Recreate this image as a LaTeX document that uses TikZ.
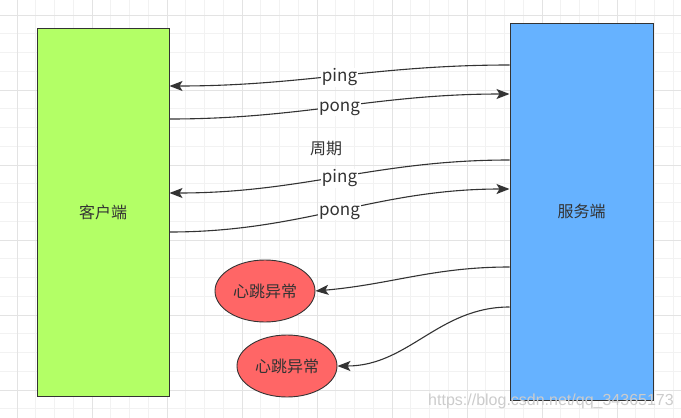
\documentclass[tikz,border=0pt]{standalone}
\usepackage{fontspec}
\newfontfamily\cjk{Noto Sans CJK SC}
\newfontfamily\wmfont{Liberation Sans}
\usetikzlibrary{arrows.meta,shapes.geometric}
\definecolor{clientgreen}{HTML}{B3FF66}
\definecolor{serverblue}{HTML}{66B2FF}
\definecolor{alarmred}{HTML}{FF6666}
\definecolor{ink}{HTML}{333333}
\definecolor{gridminor}{HTML}{F2F2F2}
\definecolor{gridmajor}{HTML}{E3E3E3}
\tikzset{
  box/.style={draw=ink, line width=1pt, inner sep=0pt, font=\cjk\fontsize{16}{16}\selectfont, text=ink},
  alarm/.style={ellipse, draw=ink, line width=0.9pt, fill=alarmred, minimum width=100pt, minimum height=62pt, inner sep=0pt, font=\cjk\fontsize{16}{16}\selectfont, text=ink},
  link/.style={draw=ink, line width=1.1pt, -{Stealth[length=13pt,width=10pt,inset=3pt]}},
  msg/.style={fill=white, inner sep=1pt, yshift=-2pt, font=\cjk\fontsize{17}{17}\selectfont, text=ink},
  plain/.style={font=\cjk\fontsize{16}{16}\selectfont, text=ink},
  minorline/.style={draw=gridminor, line width=0.8pt},
  majorline/.style={draw=gridmajor, line width=1pt}
}
\begin{document}
\begin{tikzpicture}[x=1pt, y=-1pt]
\useasboundingbox (0,0) rectangle (681,418);
\fill[white] (0,0) rectangle (681,418);
% grid
\foreach \i in {0,...,35} \draw[minorline] ({17+18.75*\i},0) -- ({17+18.75*\i},418);
\foreach \j in {0,...,21} \draw[minorline] (0,{15+18.75*\j}) -- (681,{15+18.75*\j});
\foreach \i in {0,...,8} \draw[majorline] ({17+75*\i},0) -- ({17+75*\i},418);
\foreach \j in {0,...,5} \draw[majorline] (0,{15+75*\j}) -- (681,{15+75*\j});
% boxes
\node[box, fill=clientgreen, minimum width=132pt, minimum height=368pt] (client) at (103,212) {客户端};
\node[box, fill=serverblue, minimum width=143pt, minimum height=377pt] (server) at (581.5,211.5) {服务端};
\node[alarm] (a1) at (265,291) {心跳异常};
\node[alarm] (a2) at (287,366) {心跳异常};
% messages
\draw[link] ([yshift=146.5pt]server.west) to[out=180,in=0] node[msg, midway] {ping} ([yshift=126pt]client.east);
\draw[link] ([yshift=93pt]client.east) to[out=0,in=180] node[msg, midway] {pong} ([yshift=117.5pt]server.west);
\node[plain] (cycle) at (326,149) {周期};
\draw[link] ([yshift=51.5pt]server.west) to[out=180,in=0] node[msg, midway] {ping} ([yshift=19pt]client.east);
\draw[link] ([yshift=-20pt]client.east) to[out=0,in=180] node[msg, midway] {pong} ([yshift=22.5pt]server.west);
\draw[link] ([yshift=-55.5pt]server.west) to[out=180,in=5] (a1.east);
\draw[link] ([yshift=-95.5pt]server.west) to[out=180,in=0] (a2.east);
% watermark
\node[font=\wmfont\fontsize{16}{16}\selectfont, text=black!20, inner sep=0pt, anchor=base] (wm) at (551,405) {https://blog.csdn.net/qq\_34365173};
\end{tikzpicture}
\end{document}
